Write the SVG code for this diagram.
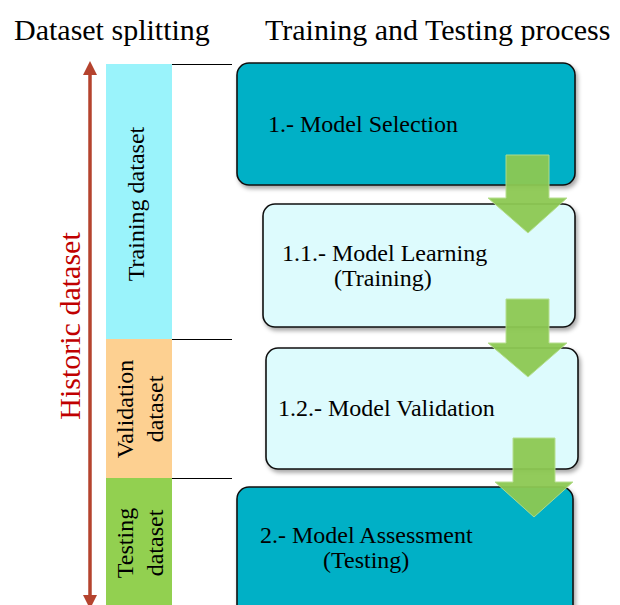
<svg xmlns="http://www.w3.org/2000/svg" width="620" height="605" viewBox="0 0 620 605">
<style>
.title{font-family:"Liberation Serif","Times New Roman",serif;font-size:30px;fill:#000}
.lbl{font-family:"Liberation Serif","Times New Roman",serif;font-size:24px;fill:#000}
.box{font-family:"Liberation Serif","Times New Roman",serif;font-size:24px;fill:#000}
.dark{fill:#05b0c6;stroke:#111;stroke-width:1.6}
.light{fill:#ddfbfd;stroke:#111;stroke-width:1.6}
.garrow{fill:#8dc953;stroke:#b4dd8c;stroke-width:1;opacity:0.95}
.sep{stroke:#000;stroke-width:1}
</style>
<defs>
<filter id="sh" x="-5%" y="-5%" width="115%" height="120%">
<feDropShadow dx="2" dy="3" stdDeviation="2" flood-color="#000" flood-opacity="0.35"/>
</filter>
<marker id="rh" viewBox="0 0 10 10" refX="5" refY="5" markerWidth="4" markerHeight="4" orient="auto-start-reverse">
<path d="M0,0 L10,5 L0,10 z" fill="#b5432e"/>
</marker>
</defs>
<text class="title" x="14" y="40">Dataset splitting</text>
<text class="title" x="265" y="40">Training and Testing process</text>

<g id="historic">
<line x1="90" y1="68" x2="90" y2="602" stroke="#b5432e" stroke-width="3.5" marker-start="url(#rh)" marker-end="url(#rh)"/>
<text transform="translate(80,326) rotate(-90)" text-anchor="middle" font-family="Liberation Serif, Times New Roman, serif" font-size="30" fill="#c00000">Historic dataset</text>
</g>

<g id="training-dataset">
<rect x="106" y="64" width="66" height="275" fill="#9af3fb"/>
<text class="lbl" transform="translate(144,204) rotate(-90)" text-anchor="middle">Training dataset</text>
</g>
<g id="validation-dataset">
<rect x="106" y="339" width="66" height="139" fill="#fdd091"/>
<text class="lbl" transform="translate(133,409) rotate(-90)" text-anchor="middle">Validation</text>
<text class="lbl" transform="translate(163,409) rotate(-90)" text-anchor="middle">dataset</text>
</g>
<g id="testing-dataset">
<rect x="106" y="478" width="66" height="127" fill="#92d050"/>
<text class="lbl" transform="translate(133,543) rotate(-90)" text-anchor="middle">Testing</text>
<text class="lbl" transform="translate(163,543) rotate(-90)" text-anchor="middle">dataset</text>
</g>

<g id="separators">
<line class="sep" x1="172" y1="64.5" x2="232" y2="64.5"/>
<line class="sep" x1="172" y1="339.5" x2="232" y2="339.5"/>
<line class="sep" x1="172" y1="478.5" x2="232" y2="478.5"/>
</g>

<g id="model-selection">
<rect class="dark" x="237" y="63" width="338" height="122" rx="12" filter="url(#sh)"/>
<text class="box" x="268" y="132">1.- Model Selection</text>
</g>
<g id="model-learning">
<rect class="light" x="263" y="204" width="312" height="123" rx="12" filter="url(#sh)"/>
<text class="box" x="282" y="261">1.1.- Model Learning</text>
<text class="box" x="334" y="286">(Training)</text>
</g>
<g id="model-validation">
<rect class="light" x="266" y="348" width="312" height="121" rx="12" filter="url(#sh)"/>
<text class="box" x="278" y="416">1.2.- Model Validation</text>
</g>
<g id="model-assessment">
<rect class="dark" x="237" y="487" width="336" height="130" rx="12" filter="url(#sh)"/>
<text class="box" x="260" y="543">2.- Model Assessment</text>
<text class="box" x="323" y="568">(Testing)</text>
</g>

<g id="connectors">
<polygon class="garrow" points="506,155 549,155 549,198 567,198 528,233 488,198 506,198"/>
<polygon class="garrow" points="506,299 549,299 549,343 567,343 528,377 488,343 506,343"/>
<polygon class="garrow" points="513,438 555,438 555,482 573,482 534,517 495,482 513,482"/>
</g>
</svg>
